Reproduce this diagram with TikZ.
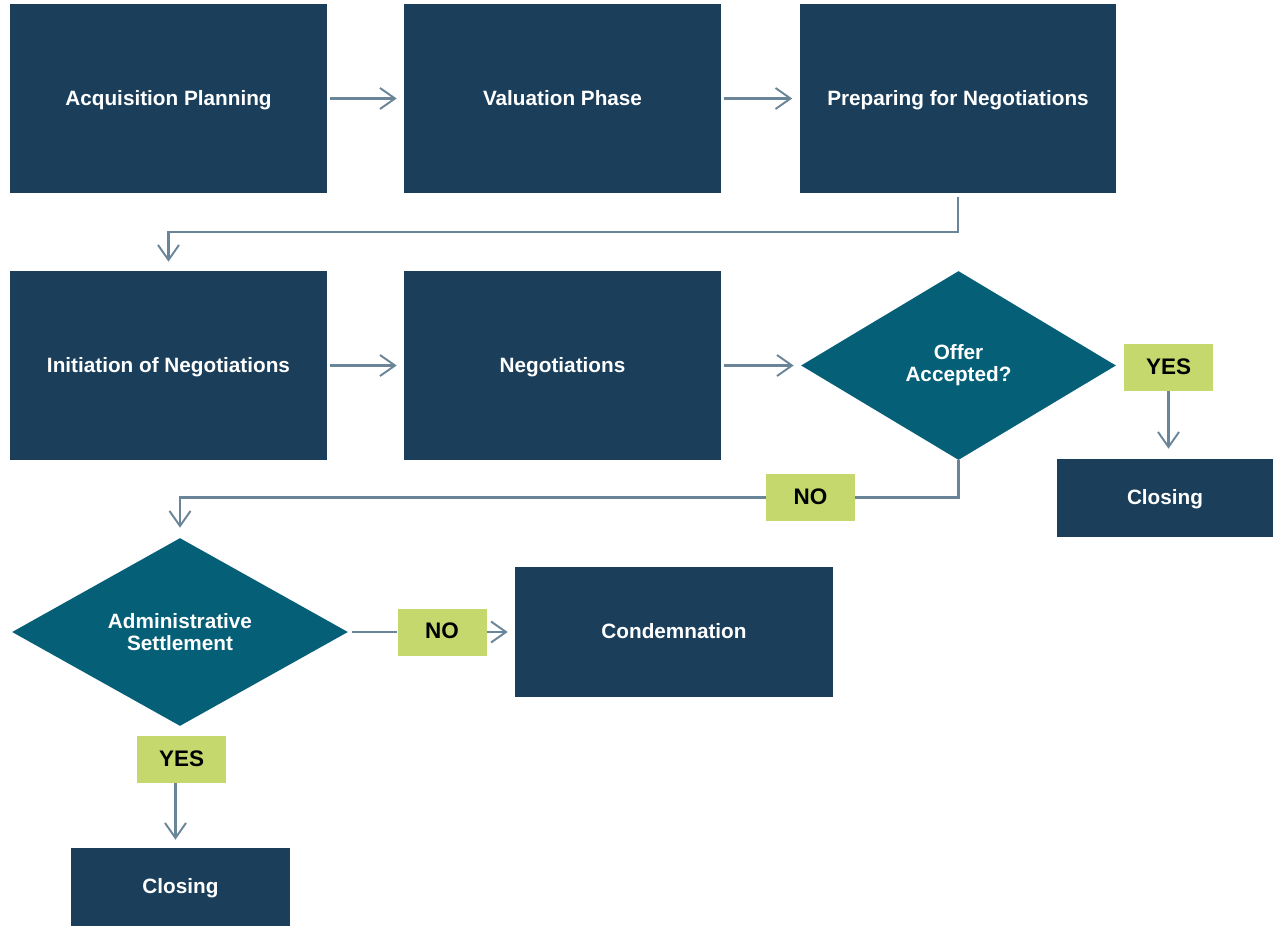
\documentclass[tikz,border=0pt]{standalone}
\usepackage{fontspec}
\setmainfont{Liberation Sans}
\usetikzlibrary{shapes.geometric,arrows.meta}
\definecolor{navy}{HTML}{1B3F5B}
\definecolor{teal}{HTML}{045F77}
\definecolor{lime}{HTML}{C5D86D}
\definecolor{arrc}{HTML}{6A8498}
\tikzset{
  box/.style={fill=navy, text=white, font=\bfseries\fontsize{11.8}{14}\selectfont, align=center, inner sep=0pt, text height=1.6ex, text depth=0.1ex, minimum width=6.34cm, minimum height=3.78cm},
  dmd/.style={diamond, fill=teal, text=white, font=\bfseries\fontsize{11.8}{12.5}\selectfont, align=center, inner sep=0pt, aspect=1.7},
  lbl/.style={fill=lime, text=black, font=\bfseries\fontsize{12.8}{14}\selectfont, inner sep=0pt, text height=1.6ex, text depth=0.1ex, minimum width=1.78cm, minimum height=0.94cm},
  arr/.style={draw=arrc, line width=1.2pt, -{Straight Barb[length=0.3cm,width=0.42cm,line width=1.1pt]}},
  ln/.style={draw=arrc, line width=1.2pt}
}
\begin{document}
\begin{tikzpicture}[x=0.02cm,y=-0.02cm]
\useasboundingbox (0,0) rectangle (1273,926);
\node[box] (acq) at (168.5,98.5) {Acquisition Planning};
\node[box] (val) at (562.5,98.5) {Valuation Phase};
\node[box] (prep) at (958,98.5) {Preparing for Negotiations};
\node[box] (init) at (168.5,365.5) {Initiation of Negotiations};
\node[box] (neg) at (562.5,365.5) {Negotiations};
\node[dmd, minimum width=6.3cm, minimum height=3.78cm] (offer) at (958.5,365.5) {Offer\\Accepted?};
\node[lbl] (yes1) at (1168.5,367.5) {YES};
\node[box, minimum width=4.32cm, minimum height=1.56cm] (close1) at (1165,498) {Closing};
\node[lbl] (no1) at (810.5,497.5) {NO};
\node[dmd, minimum width=6.72cm, minimum height=3.76cm] (admin) at (180,632) {Administrative\\Settlement};
\node[lbl] (no2) at (442,632) {NO};
\node[box, minimum width=6.36cm, minimum height=2.6cm] (cond) at (674,632) {Condemnation};
\node[lbl] (yes2) at (181.5,759.5) {YES};
\node[box, minimum width=4.38cm, minimum height=1.56cm] (close2) at (180.5,887) {Closing};
\coordinate (turn1) at (958,232);
% arrows
\draw[arr, shorten <=0.06cm, shorten >=0.14cm] (acq) -- (val);
\draw[arr, shorten <=0.06cm, shorten >=0.14cm] (val) -- (prep);
\draw[arr, shorten <=0.08cm, shorten >=0.18cm] (prep.south) -- (turn1) -| (init.north);
\draw[arr, shorten <=0.06cm, shorten >=0.14cm] (init) -- (neg);
\draw[arr, shorten <=0.06cm, shorten >=0.14cm] (neg) -- (offer);
\draw[arr, shorten >=0.2cm] (yes1.south) -- (yes1.south |- close1.north);
\draw[ln] (offer.south) |- (no1.east);
\draw[arr, shorten >=0.2cm] (no1.west) -| (admin.north);
\draw[ln, shorten <=0.08cm] (admin.east) -- (no2.west);
\draw[arr, shorten >=0.14cm] (no2.east) -- (cond.west);
\draw[arr, shorten >=0.16cm] ([xshift=-0.12cm]yes2.south) -- ([xshift=-0.12cm]yes2.south |- close2.north);
\end{tikzpicture}
\end{document}
